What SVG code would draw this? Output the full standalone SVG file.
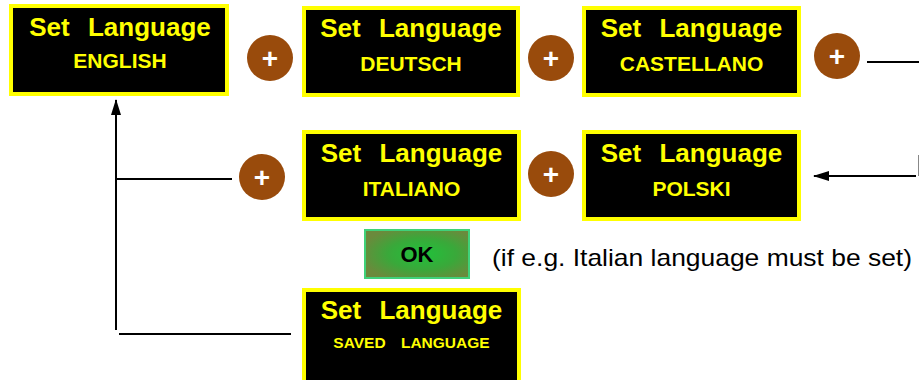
<svg xmlns="http://www.w3.org/2000/svg" width="919" height="380" viewBox="0 0 919 380">
  <defs>
    <marker id="arrow" viewBox="0 0 16 10" refX="15" refY="5" markerWidth="16" markerHeight="10" markerUnits="userSpaceOnUse" orient="auto">
      <path d="M0,0 L16,5 L0,10 Z" fill="#000"/>
    </marker>
    <radialGradient id="okFill" cx="0.55" cy="0.5" r="0.6">
      <stop offset="0" stop-color="#1fc23a"/>
      <stop offset="0.55" stop-color="#3aa83a"/>
      <stop offset="1" stop-color="#6b8a3c"/>
    </radialGradient>
  </defs>
  <style>
    .screen { fill: #000; stroke: #ffff00; stroke-width: 4; }
    .title { font-family: "Liberation Sans", Arial, sans-serif; font-weight: bold; font-size: 26px; fill: #ffff00; text-anchor: middle; word-spacing: 11px; }
    .lang { font-family: "Liberation Sans", Arial, sans-serif; font-weight: bold; font-size: 21px; fill: #ffff00; text-anchor: middle; }
    .small { font-size: 15.5px; word-spacing: 11px; }
    .plus circle { fill: #994b0c; }
    .plus text { font-family: "Liberation Sans", Arial, sans-serif; font-weight: bold; font-size: 28px; fill: #fff; text-anchor: middle; }
    .wire { fill: none; stroke: #000; stroke-width: 2; }
    .note { font-family: "Liberation Sans", Arial, sans-serif; font-size: 24px; fill: #000; }
  </style>

  <!-- connectors -->
  <g id="connectors">
    <line class="wire" x1="867" y1="62" x2="919" y2="62"/>
    <line x1="918.5" y1="155" x2="918.5" y2="176" stroke="#888" stroke-width="1"/>
    <line class="wire" x1="916" y1="176" x2="814" y2="176" marker-end="url(#arrow)"/>
    <line class="wire" x1="117" y1="179" x2="232" y2="179"/>
    <line class="wire" x1="116" y1="330" x2="116" y2="100" marker-end="url(#arrow)"/>
    <line class="wire" x1="119" y1="334" x2="291" y2="334"/>
  </g>

  <!-- language screens -->
  <g id="english">
    <rect class="screen" x="11" y="6" width="216" height="88"/>
    <text class="title" x="120" y="36">Set Language</text>
    <text class="lang" x="120" y="68">ENGLISH</text>
  </g>
  <g id="deutsch">
    <rect class="screen" x="304" y="8" width="214" height="87"/>
    <text class="title" x="411" y="37">Set Language</text>
    <text class="lang" x="411" y="71">DEUTSCH</text>
  </g>
  <g id="castellano">
    <rect class="screen" x="584" y="8" width="215" height="87"/>
    <text class="title" x="691.5" y="37">Set Language</text>
    <text class="lang" x="691.5" y="71">CASTELLANO</text>
  </g>
  <g id="italiano">
    <rect class="screen" x="304" y="132" width="215" height="87"/>
    <text class="title" x="411.5" y="162">Set Language</text>
    <text class="lang" x="411.5" y="196">ITALIANO</text>
  </g>
  <g id="polski">
    <rect class="screen" x="584" y="132" width="215" height="87"/>
    <text class="title" x="691.5" y="162">Set Language</text>
    <text class="lang" x="691.5" y="196">POLSKI</text>
  </g>
  <g id="saved">
    <rect class="screen" x="304" y="290" width="215" height="100"/>
    <text class="title" x="411.5" y="319">Set Language</text>
    <text class="lang small" x="411.5" y="348">SAVED LANGUAGE</text>
  </g>

  <!-- "+" keys -->
  <g id="plus1" class="plus"><circle cx="270" cy="58" r="23"/><text x="270" y="67.5">+</text></g>
  <g id="plus2" class="plus"><circle cx="551" cy="58" r="23"/><text x="551" y="67.5">+</text></g>
  <g id="plus3" class="plus"><circle cx="837" cy="56" r="23"/><text x="837" y="65.5">+</text></g>
  <g id="plus4" class="plus"><circle cx="262" cy="177" r="23"/><text x="262" y="186.5">+</text></g>
  <g id="plus5" class="plus"><circle cx="551" cy="174" r="23"/><text x="551" y="183.5">+</text></g>

  <!-- OK key -->
  <g id="ok">
    <rect x="365" y="230" width="104" height="48" fill="url(#okFill)" stroke="#3fd27a" stroke-width="2"/>
    <text x="417" y="262" font-family="Liberation Sans, Arial, sans-serif" font-weight="bold" font-size="22" text-anchor="middle" fill="#000">OK</text>
  </g>

  <text id="hint" class="note" x="492" y="266" textLength="420" lengthAdjust="spacingAndGlyphs">(if e.g. Italian language must be set)</text>
</svg>
